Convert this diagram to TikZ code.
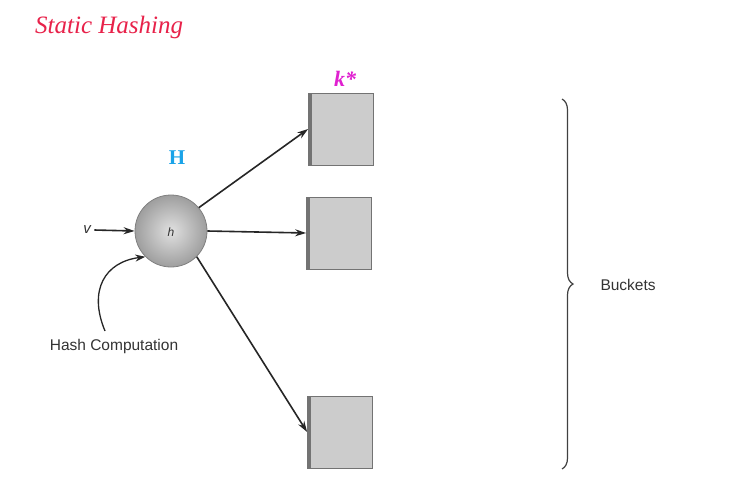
\documentclass[tikz,border=0pt]{standalone}
\usepackage{fontspec}
\setmainfont{Liberation Serif}
\newfontfamily\labelfont{Liberation Sans}
\usetikzlibrary{arrows.meta,decorations.pathreplacing,shadings}
\definecolor{titlered}{HTML}{E8224A}
\definecolor{hblue}{HTML}{1AA3E8}
\definecolor{kmag}{HTML}{E020D0}
\begin{document}
\begin{tikzpicture}[x=1pt,y=-1pt,
  lbl/.style={font=\labelfont\fontsize{15.5}{18}\selectfont, text=black!80},
  conn/.style={draw=black!85, line width=1.6pt, -{Stealth[length=11pt,width=7pt]}},
  bucketbox/.style={draw=black!55, line width=0.8pt, fill=black!20, minimum width=65pt, minimum height=72pt, inner sep=0pt}]
\useasboundingbox (0,0) rectangle (730,498);
\fill[white] (0,0) rectangle (730,498);
\node[anchor=base west, inner sep=0pt, font=\itshape\fontsize{25}{29}\selectfont, text=titlered] (title) at (35,33) {Static Hashing};
% hash circle
\node[circle, minimum size=72pt, inner sep=0pt, draw=black!50, line width=0.8pt, inner color=black!12, outer color=black!38] (h) at (171,231) {};
\node[font=\labelfont\itshape\fontsize{12}{14}\selectfont, text=black!80] (hl) at (171,232) {h};
\node[font=\bfseries\fontsize{21}{24}\selectfont, text=hblue] (H) at (177,158) {H};
% input
\node[lbl, font=\labelfont\itshape\fontsize{15}{18}\selectfont] (v) at (87,230) {v};
\draw[conn] (v.east) -- (h.west);
% buckets
\node[bucketbox] (b1) at (341,129) {};
\node[bucketbox] (b2) at (339,233) {};
\node[bucketbox] (b3) at (340,432) {};
\foreach \b in {b1,b2,b3}{
  \fill[black!55] (\b.north west) rectangle ([xshift=4pt]\b.south west);
}
\node[font=\bfseries\itshape\fontsize{22}{25}\selectfont, text=kmag] (k) at (345,79) {k*};
% arrows from h
\draw[conn] (h.40) -- (b1.west);
\draw[conn] (h.east) -- (b2.west);
\draw[conn] (h.-45) -- (b3.west);
% hash computation
\node[lbl] (hc) at (114,346) {Hash Computation};
\draw[draw=black!85, line width=1.3pt, -{Stealth[length=10pt,width=7pt]}] (105,331) .. controls (88,290) and (105,262) .. (h.225);
% brace
\coordinate (bt) at (562,99);
\coordinate (bb) at (562,469);
\draw[black!75, line width=1.2pt, decorate, decoration={brace, amplitude=11pt, raise=0pt}] (bt) -- (bb);
\node[lbl, anchor=west] (bk) at (597,285) {Buckets};
\end{tikzpicture}
\end{document}
